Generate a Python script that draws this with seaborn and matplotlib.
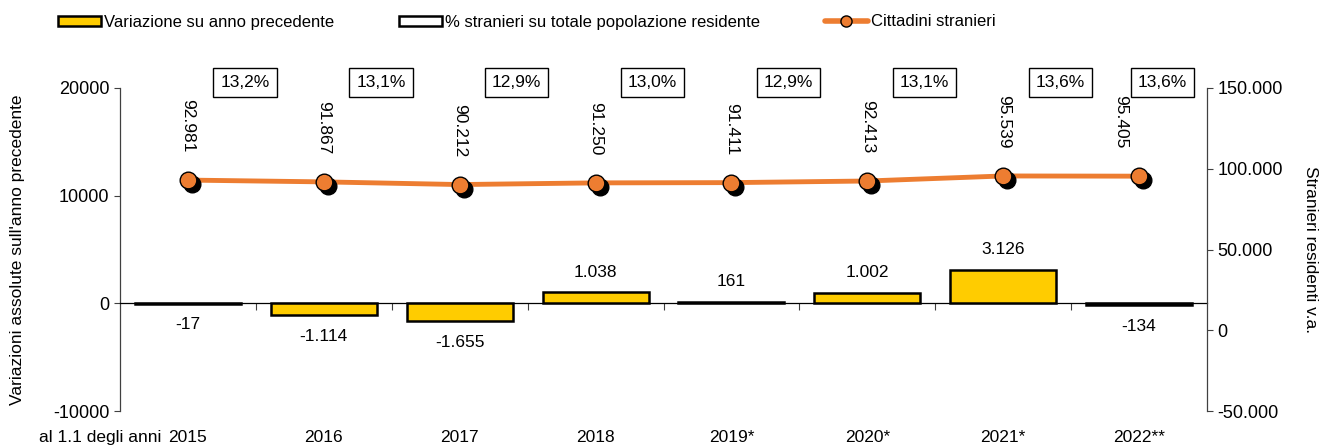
import numpy as np
import pandas as pd
import matplotlib.pyplot as plt
import matplotlib.transforms as mtransforms
from matplotlib.patches import Patch
from matplotlib.lines import Line2D
import seaborn as sns

# ===================== dati =====================
anni = ["2015", "2016", "2017", "2018", "2019*", "2020*", "2021*", "2022**"]
variazione = [-17, -1114, -1655, 1038, 161, 1002, 3126, -134]
stranieri = [92981, 91867, 90212, 91250, 91411, 92413, 95539, 95405]
perc_stranieri = [13.2, 13.1, 12.9, 13.0, 12.9, 13.1, 13.6, 13.6]

GIALLO = "#FFCC00"
ARANCIO = "#ED7D31"

sns.set_theme(style="ticks")
plt.rcParams['font.family'] = ['Liberation Sans', 'DejaVu Sans']
plt.rcParams['axes.unicode_minus'] = False
plt.rcParams['text.color'] = 'black'
plt.rcParams['axes.labelcolor'] = 'black'
plt.rcParams['xtick.labelcolor'] = 'black'
plt.rcParams['ytick.labelcolor'] = 'black'


def fmt_it(v):
    return f"{v:,}".replace(",", ".")


df = pd.DataFrame({"anno": anni, "variazione": variazione, "stranieri": stranieri})
pos = np.arange(len(anni))

fig = plt.figure(figsize=(13.21, 4.48), dpi=100)
ax = fig.add_axes([120 / 1321, 1 - 411 / 448, 1087 / 1321, 323 / 448])

# ===================== barre (asse sinistro) =====================
sns.barplot(data=df, x="anno", y="variazione", color=GIALLO, saturation=1,
            width=0.78, edgecolor="black", linewidth=1.8, ax=ax, zorder=3)
ax.set_xlim(-0.5, len(anni) - 0.5)
ax.set_ylim(-10000, 20000)
ax.set_yticks([-10000, 0, 10000, 20000])
ax.set_xlabel("")
ax.set_ylabel("Variazioni assolute sull'anno precedente", fontsize=12.5)
ax.yaxis.set_label_coords(-0.087, 0.5)
ax.tick_params(axis="y", labelsize=13, length=4, width=0.8, color="#404040")

# linea dello zero con tacche tra le categorie
ax.spines["top"].set_visible(False)
ax.spines["right"].set_visible(False)
ax.spines["bottom"].set_position(("data", 0))
ax.spines["bottom"].set_linewidth(0.9)
ax.spines["bottom"].set_color("black")
ax.spines["left"].set_linewidth(0.9)
ax.spines["left"].set_color("#404040")
ax.set_xticks(pos[:-1] + 0.5, minor=True)
ax.tick_params(axis="x", which="minor", length=5, width=0.8, color="#404040")
ax.tick_params(axis="x", which="major", length=0, labelbottom=False)

for i, v in enumerate(variazione):
    ax.annotate(fmt_it(v), (i, v), xytext=(0, 9 if v >= 0 else -10),
                textcoords="offset points", ha="center",
                va="bottom" if v >= 0 else "top", fontsize=12.5, zorder=5)

# etichette anni in basso
sec = ax.secondary_xaxis("bottom")
sec.set_xticks(pos, labels=anni)
sec.tick_params(length=0, pad=14, labelsize=12.5)
sec.spines["bottom"].set_visible(False)
ax.annotate("al 1.1 degli anni", xy=(0, 0), xycoords="axes fraction",
            xytext=(30, -14), textcoords="offset points",
            ha="right", va="top", fontsize=12.5)

# ===================== linea (asse destro) =====================
ax2 = ax.twinx()
sns.lineplot(x=pos, y=stranieri, color=ARANCIO, linewidth=3.5, ax=ax2, zorder=2)
ombra = mtransforms.offset_copy(ax2.transData, fig=fig, x=4, y=-4, units="dots")
ax2.plot(pos, stranieri, "o", color="black", markersize=12, transform=ombra, zorder=3)
sns.scatterplot(x=pos, y=stranieri, color=ARANCIO, s=12 ** 2, edgecolor="black",
                linewidth=1, ax=ax2, zorder=4)
ax2.set_ylim(-50000, 150000)
ax2.set_yticks([-50000, 0, 50000, 100000, 150000])
ax2.set_yticklabels([fmt_it(t) for t in [-50000, 0, 50000, 100000, 150000]])
ax2.tick_params(axis="y", labelsize=13, length=4, width=0.8, color="#404040")
for s in ["top", "left", "bottom"]:
    ax2.spines[s].set_visible(False)
ax2.spines["right"].set_linewidth(0.9)
ax2.spines["right"].set_color("#404040")
ax2.set_ylabel("Stranieri residenti v.a.", fontsize=12.5, rotation=270, va="bottom")
ax2.yaxis.set_label_coords(1.088, 0.5)

for i, v in enumerate(stranieri):
    dx = 0 if i < len(stranieri) - 1 else -13
    ax2.annotate(fmt_it(v), (i, v), xytext=(dx, 20), textcoords="offset points",
                 rotation=270, ha="center", va="bottom", fontsize=12.5)

# riquadri con la percentuale
blend = mtransforms.blended_transform_factory(ax.transData, ax.transAxes)
for i, p in enumerate(perc_stranieri):
    dx = 0.42 if i < len(perc_stranieri) - 1 else 0.17
    ax2.text(i + dx, 1.018, f"{p:.1f}%".replace(".", ","), transform=blend,
             ha="center", va="center", fontsize=12.5, clip_on=False,
             bbox=dict(boxstyle="square,pad=0.4", fc="white", ec="black", lw=1))

# ===================== legenda =====================
handles = [
    Patch(facecolor=GIALLO, edgecolor="black", linewidth=1.8),
    Patch(facecolor="white", edgecolor="black", linewidth=1.8),
    Line2D([], [], color=ARANCIO, lw=4, marker="o", ms=8, mfc=ARANCIO, mec="black"),
]
labels = ["Variazione su anno precedente",
          "% stranieri su totale popolazione residente",
          "Cittadini stranieri"]
fig.legend(handles, labels, loc="center left", bbox_to_anchor=(58 / 1321, 1 - 22 / 448),
           ncol=3, frameon=False, fontsize=12, handlelength=2.6, handleheight=0.55,
           handletextpad=0.15, columnspacing=3.9, borderpad=0, borderaxespad=0)

fig.savefig("out.png", dpi=100)
